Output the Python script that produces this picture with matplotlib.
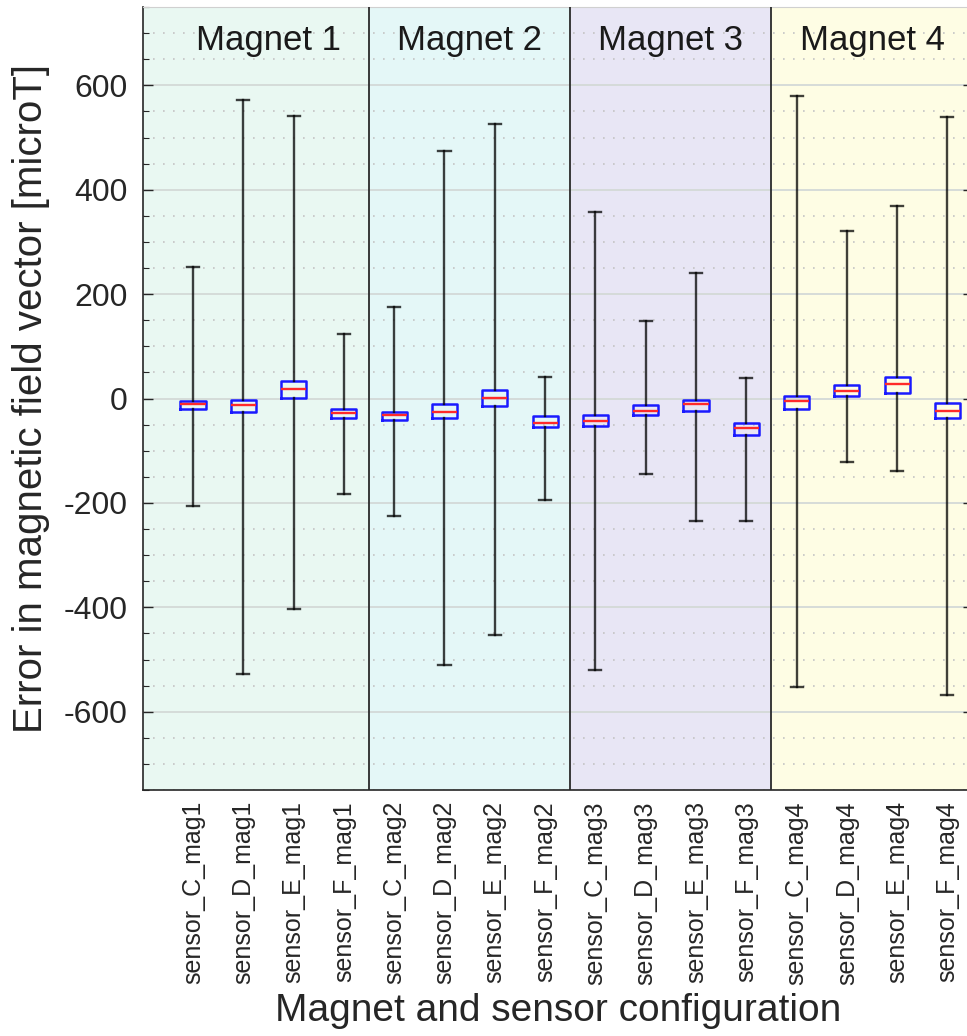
import matplotlib
matplotlib.use("Agg")
import matplotlib.pyplot as plt
from matplotlib.ticker import MultipleLocator

plt.rcParams["font.family"] = ["Liberation Sans", "DejaVu Sans"]
plt.rcParams["axes.unicode_minus"] = False

# Error statistics per magnet / sensor configuration [microT]
labels = [
    "sensor_C_mag1", "sensor_D_mag1", "sensor_E_mag1", "sensor_F_mag1",
    "sensor_C_mag2", "sensor_D_mag2", "sensor_E_mag2", "sensor_F_mag2",
    "sensor_C_mag3", "sensor_D_mag3", "sensor_E_mag3", "sensor_F_mag3",
    "sensor_C_mag4", "sensor_D_mag4", "sensor_E_mag4", "sensor_F_mag4",
]
medians = [-11, -12, 19, -28, -31, -25, 1, -46, -43, -23, -11, -57, -5, 15, 27, -23]
q1 = [-21, -26, 1, -38, -41, -38, -14, -55, -52, -31, -23, -69, -20, 4, 11, -38]
q3 = [-5, -2, 33, -20, -25, -10, 16, -34, -31, -13, -2, -46, 4, 25, 42, -8]
whisker_low = [-205, -527, -404, -182, -226, -510, -454, -194,
               -521, -144, -235, -235, -553, -121, -138, -568]
whisker_high = [252, 571, 542, 123, 176, 475, 525, 42,
                358, 149, 241, 39, 580, 320, 369, 539]

magnet_names = ["Magnet 1", "Magnet 2", "Magnet 3", "Magnet 4"]
magnet_colors = ["#e9f8f2", "#e4f7f7", "#e8e6f5", "#fefde4"]

text_color = "#262626"

fig = plt.figure(figsize=(9.67, 10.36), dpi=100)
ax = fig.add_axes([142.7 / 967, 1 - 790 / 1036, 829.9 / 967, 783 / 1036])

positions = list(range(1, len(labels) + 1))
stats = [
    dict(med=m, q1=a, q3=b, whislo=lo, whishi=hi, label=lab)
    for m, a, b, lo, hi, lab in zip(medians, q1, q3, whisker_low, whisker_high, labels)
]

# shaded magnet groups with separators
for k, (name, col) in enumerate(zip(magnet_names, magnet_colors)):
    left = 4 * k + 0.5 if k > 0 else 0
    right = 4 * k + 4.5
    ax.axvspan(left, right, color=col, zorder=0.5, lw=0)
    if k > 0:
        ax.axvline(4 * k + 0.5, color="#2a2a2a", lw=1.3, zorder=3)
    ax.text(4 * k + 2.5, 667, name, ha="center", va="baseline",
            fontsize=25, color="#1a1a1a", zorder=4)

ax.bxp(
    stats, positions=positions, widths=0.5, capwidths=0.24,
    showfliers=False, manage_ticks=False,
    boxprops=dict(color="#1a1aff", lw=1.8),
    medianprops=dict(color="#ff2a2a", lw=1.7),
    whiskerprops=dict(color="black", lw=1.7, alpha=0.75),
    capprops=dict(color="black", lw=1.7, alpha=0.75),
)

ax.set_xlim(0, 16.5)
ax.set_ylim(-750, 750)
ax.set_yticks([-600, -400, -200, 0, 200, 400, 600])
ax.yaxis.set_minor_locator(MultipleLocator(50))
ax.set_xticks(positions)
ax.set_xticklabels(labels, rotation=90, fontsize=18, color=text_color)

ax.set_axisbelow("line")
ax.yaxis.grid(True, which="major", color="#d3d9d7", lw=1.3, ls="-")
ax.yaxis.grid(True, which="minor", color="#c4c4c4", lw=1.2, ls=(0, (1, 5)))

ax.tick_params(axis="y", which="both", direction="in", left=True, right=True,
               colors=text_color, labelsize=23, pad=10.8)
ax.tick_params(axis="y", which="major", length=7, width=1)
ax.tick_params(axis="y", which="minor", length=4, width=0.8)
ax.tick_params(axis="x", length=0, pad=8)

for side in ("left", "bottom", "right"):
    ax.spines[side].set_color(text_color)
    ax.spines[side].set_linewidth(1.2)
ax.spines["top"].set_color("#d0d0d0")
ax.spines["top"].set_linewidth(0.8)

ax.set_ylabel("Error in magnetic field vector [microT]", fontsize=29,
              color=text_color, labelpad=10)
ax.set_xlabel("Magnet and sensor configuration", fontsize=28,
              color=text_color, labelpad=6)

fig.savefig("out.png", dpi=100)
